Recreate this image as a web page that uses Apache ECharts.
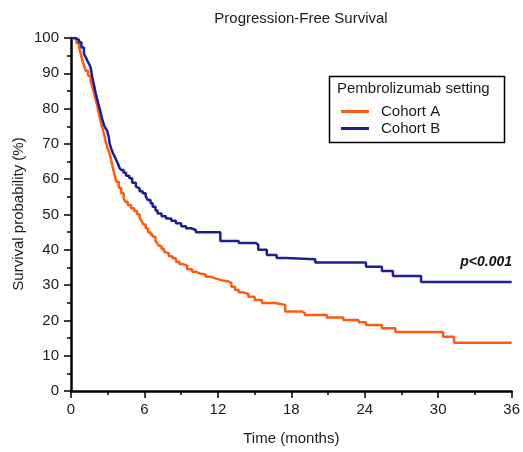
<!DOCTYPE html>
<html>
<head>
<meta charset="utf-8">
<script src="https://cdn.jsdelivr.net/npm/echarts@6/dist/echarts.min.js"></script>
<style>
html,body{margin:0;padding:0;background:#fff;}
#c{width:523px;height:452px;}
</style>
</head>
<body>
<div id="c"></div>
<script>
// Cohort A (orange) - time in months, survival in %
const timeA = [0,0.25,0.45,0.65,0.8,0.93,1.06,1.2,1.4,1.6,1.74,1.87,2.0,2.15,2.28,2.42,2.55,2.7,2.82,2.95,3.05,3.15,3.28,3.4,3.55,3.7,3.9,4.1,4.3,4.45,4.63,4.9,5.18,5.4,5.6,5.75,5.9,6.1,6.3,6.5,6.67,6.9,7.05,7.2,7.4,7.6,7.76,8.0,8.3,8.57,8.85,9.1,9.5,9.9,10.2,10.5,11,11.4,11.8,12.3,12.9,13.1,13.4,13.7,14,14.5,15,15.6,16.7,17.5,18.9,19.1,20.9,22.25,23.5,24.1,25.4,26.5,30.4,31.3,36];
const survA = [100,99.7,98.5,97.4,95.5,93.6,92.2,90.7,89.3,87.9,86.2,84.6,82.7,80.8,78.5,76.5,74.7,72.8,70.9,69.2,68.2,67.3,65.4,63.5,61.4,59.3,57.6,56,54.6,53.6,52.7,51.8,51.0,50.1,49.2,48.3,47.2,46.1,45.0,44.3,43.7,42.5,41.8,41.1,40.2,39.5,39,38.2,37.6,36.6,36.0,35.5,34.5,33.8,33.3,33,32.4,31.9,31.4,31.0,30.6,29.5,28.6,28.0,27.5,26.7,25.8,24.9,24.4,22.5,22.1,21.5,20.8,20.1,19.5,18.7,17.8,16.7,15.4,13.7,13.7];
// Cohort B (blue)
const timeB = [0,0.15,0.35,0.65,0.85,1.06,1.2,1.33,1.47,1.6,1.74,1.87,2.0,2.14,2.28,2.42,2.55,2.7,2.83,2.96,3.09,3.15,3.3,3.45,3.6,3.7,3.85,3.96,4.1,4.3,4.5,4.77,5.0,5.3,5.45,5.6,5.85,6.1,6.26,6.5,6.67,6.9,7.07,7.4,7.76,8.2,8.57,9.0,9.4,9.8,10.2,12.2,13.7,15.1,15.3,16,16.8,17.6,19.95,24.1,25.4,26.3,28.6,36];
const survB = [100,100,99.5,98.8,97.3,95.5,94.6,93.6,92.7,91.7,88.9,86.8,84.6,82.7,80.8,78.9,77,75.3,74.4,73.7,71.9,70.2,68.5,67.2,66.2,65.4,64.3,63.2,62.6,61.8,61.0,60.3,59.0,57.9,57.4,56.6,56,55.2,54.1,53.2,52.2,51.1,50.3,49.5,48.9,48.2,47.5,46.7,46.1,45.6,45.0,42.5,41.9,41.4,40,38.5,37.7,37.3,36.4,35.2,34,32.6,30.9,30.9];
const seriesNames = ['Cohort A','Cohort B'];

const toPairs = (t, s) => t.map((v, i) => [v, s[i]]);
const chart = echarts.init(document.getElementById('c'));
const font = 'Liberation Sans, Arial, sans-serif';
chart.setOption({
  animation: false,
  textStyle: {fontFamily: font},
  title: {
    text: 'Progression-Free Survival',
    left: 296, top: 6, textAlign: 'center',
    textStyle: {fontSize: 15, fontWeight: 'normal', color: '#1a1a1a', fontFamily: font}
  },
  grid: {left: 71, right: 9, top: 38, bottom: 61},
  xAxis: {
    type: 'value', min: 0, max: 36, interval: 6,
    name: 'Time (months)', nameLocation: 'middle', nameGap: 40,
    nameTextStyle: {fontSize: 15, color: '#1a1a1a'},
    axisLine: {lineStyle: {color: '#000', width: 2.5}},
    axisTick: {length: 7, lineStyle: {color: '#000', width: 1.5}},
    minorTick: {show: true, splitNumber: 2, length: 4, lineStyle: {color: '#000', width: 1.5}},
    axisLabel: {fontSize: 15, color: '#1a1a1a', margin: 11},
    splitLine: {show: false}
  },
  yAxis: {
    type: 'value', min: 0, max: 100, interval: 10,
    axisLine: {show: true, lineStyle: {color: '#000', width: 2.5}},
    axisTick: {show: true, length: 7, lineStyle: {color: '#000', width: 1.5}},
    minorTick: {show: true, splitNumber: 2, length: 4, lineStyle: {color: '#000', width: 1.5}},
    axisLabel: {fontSize: 15, color: '#1a1a1a', margin: 12},
    splitLine: {show: false}
  },
  legend: {
    orient: 'vertical', left: 336, top: 99, itemGap: 2,
    itemWidth: 28, itemHeight: 3, icon: 'rect',
    textStyle: {fontSize: 15, color: '#1a1a1a', padding: [0, 0, 0, 7]},
    data: seriesNames
  },
  graphic: [
    {type: 'rect', left: 327, top: 74, shape: {width: 175, height: 66},
     style: {fill: 'none', stroke: '#000', lineWidth: 1.5}},
    {type: 'text', left: 337, top: 81,
     style: {text: 'Pembrolizumab setting', fontSize: 15, fill: '#1a1a1a', fontFamily: font}},
    {type: 'text', x: 19, y: 214, rotation: Math.PI / 2,
     style: {text: 'Survival probability (%)', fontSize: 15, fill: '#1a1a1a', fontFamily: font,
             align: 'center', verticalAlign: 'middle'}},
    {type: 'text', x: 512, y: 262,
     style: {text: 'p<0.001', fontSize: 14, fontWeight: 'bold', fontStyle: 'italic', fill: '#111',
             fontFamily: font, align: 'right', verticalAlign: 'middle'}}
  ],
  series: [
    {name: seriesNames[0], type: 'line', step: 'end', showSymbol: false, symbol: 'none',
     data: toPairs(timeA, survA), color: '#ff5a12', lineStyle: {width: 2.5, color: '#ff5a12'}},
    {name: seriesNames[1], type: 'line', step: 'end', showSymbol: false, symbol: 'none',
     data: toPairs(timeB, survB), color: '#1f1f8f', lineStyle: {width: 2.5, color: '#1f1f8f'}}
  ]
});
</script>
</body>
</html>
